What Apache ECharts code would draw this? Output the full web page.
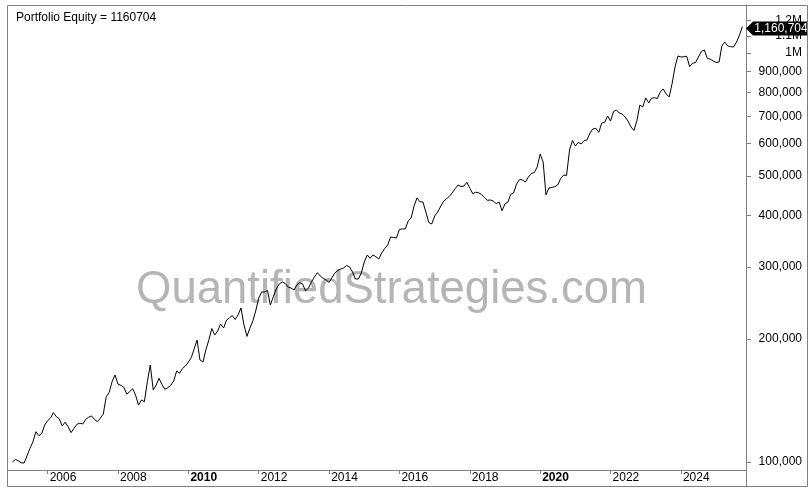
<!DOCTYPE html>
<html>
<head>
<meta charset="utf-8">
<script src="https://cdn.jsdelivr.net/npm/echarts@6/dist/echarts.min.js"></script>
<style>
html,body{margin:0;padding:0;background:#fff;}
#equity_chartID{width:812px;height:492px;}
</style>
</head>
<body>
<div id="equity_chartID"></div>
<script>
//Portfolio equity, monthly closes from Jan 2005
var equityStartYear=2005;
var equityValueArray=[
	100000,101500,100700,99600,99400,103600,108000,112100,118600,116000,
	117500,123200,126200,128300,132000,129100,127600,122500,125100,122000,
	118000,120900,123700,124400,123900,127200,128600,129600,127200,125500,
	127900,131000,144400,147800,157200,163200,155000,154000,152300,146600,
	148500,151100,145800,137800,141800,140400,157200,172600,150000,154300,
	160200,154900,150600,151900,154000,157800,166900,164800,169300,171700,
	175600,180100,188900,198700,177600,175600,187800,198700,212000,204400,
	209100,217500,212600,222400,224900,228100,223000,228800,238100,216300,
	202800,212300,221200,234000,251800,260400,260400,262600,242000,253900,
	264800,272400,275500,273200,267800,266300,263300,270900,274500,272400,
	261900,266300,275500,283300,290400,284900,281000,278600,274700,282600,
	289800,293900,296400,298100,302300,299800,291400,280200,280200,289800,
	308300,320700,314800,320700,317600,313600,324400,332600,339300,354900,
	353900,352900,370600,371300,371300,388400,395000,422600,442000,432900,
	432200,408500,385100,381800,399400,408500,420200,433400,439600,445800,
	454700,465800,475600,471600,472900,482900,466900,452700,456600,455300,
	450900,443300,436400,437100,434600,428100,432200,411500,427400,432200,
	451400,455300,478300,490600,489200,483700,497500,507500,509800,526300,
	566000,541300,450000,467600,469000,471100,475600,493400,503100,501700,
	579100,611000,592400,604800,599100,610300,612700,637400,651900,654400,
	639800,674200,676900,701400,681900,719300,725400,713300,709300,697400,
	681900,659200,646400,681900,746100,737800,776100,754600,774800,777400,
	773900,802800,816500,793800,780500,839800,924100,983200,977600,978700,
	982000,925700,944100,947300,977600,1008300,1016900,970500,965600,955900,
	947800,950500,1040100,1063700,1040100,1036000,1034300,1063700,1106500,1160704
];
var yearTickArray=[2006,2008,2010,2012,2014,2016,2018,2020,2022,2024];
var boldYearArray=[2010,2020];
var priceTickArray=[100000,200000,300000,400000,500000,600000,700000,800000,900000,1000000,1100000,1200000];
var lastEquity=1160704;
var equity_graphID=null;

function showCharts_Equity(){
	var fontName='"Liberation Sans", Arial, sans-serif';
	var seriesData=[];
	for(var i=0;i<equityValueArray.length;i++){
		var y=equityStartYear+Math.floor(i/12);
		var m=i%12;
		seriesData.push([new Date(y,m,1).getTime(), equityValueArray[i]]);
	}
	var yearTicks=[];
	for(var j=0;j<yearTickArray.length;j++){
		yearTicks.push(new Date(yearTickArray[j],0,1).getTime());
	}
	var xMin=new Date(2004,10,15).getTime();
	var xMax=new Date(2025,10,7).getTime();

	equity_graphID = echarts.init(document.getElementById('equity_chartID'));
	var option = {
		animation:false,
		title:{
			text:'Portfolio Equity = '+lastEquity,
			left:11, top:7,
			textStyle:{fontSize:12, fontWeight:'normal', color:'#000', fontFamily:fontName}
		},
		grid:{left:8, right:66, top:5, bottom:22},
		xAxis:{
			type:'value',
			min:xMin, max:xMax,
			axisLine:{show:true, lineStyle:{color:'#808080', width:1}},
			axisTick:{show:true, length:4, inside:false, customValues:yearTicks, lineStyle:{color:'#808080'}},
			splitLine:{show:false},
			axisLabel:{
				customValues:yearTicks,
				align:'left',
				margin:2,
				padding:[0,0,0,2],
				color:'#000',
				fontSize:12,
				fontFamily:fontName,
				formatter:function(v){
					var yr=new Date(v).getFullYear();
					return boldYearArray.indexOf(yr)>=0 ? '{b|'+yr+'}' : ''+yr;
				},
				rich:{b:{fontWeight:'bold', fontSize:12, fontFamily:fontName, color:'#000'}}
			}
		},
		yAxis:{
			type:'log',
			position:'right',
			min:95600, max:1310000,
			axisLine:{show:true, lineStyle:{color:'#808080', width:1}},
			axisTick:{show:true, length:5, inside:false, customValues:priceTickArray, lineStyle:{color:'#808080'}},
			splitLine:{show:false},
			axisLabel:{
				customValues:priceTickArray,
				align:'right',
				margin:56,
				color:'#000',
				fontSize:12,
				fontFamily:fontName,
				formatter:function(v){
					if(v>=1000000){ return (Math.round(v/100000)/10)+'M'; }
					return Math.round(v).toLocaleString('en-US');
				}
			}
		},
		graphic:[
			{
				type:'text', z:0, silent:true,
				style:{
					text:'QuantifiedStrategies.com',
					x:391.5, y:290,
					align:'center', verticalAlign:'middle',
					font:'45.5px "Liberation Sans", Arial, sans-serif',
					fill:'#b5b5b5'
				}
			},
			{
				type:'rect', z:10, silent:true,
				shape:{x:7.5, y:5.5, width:800, height:481},
				style:{fill:'none', stroke:'#808080', lineWidth:1}
			},
			{
				type:'line', z:10, silent:true,
				shape:{x1:746.5, y1:470, x2:746.5, y2:487},
				style:{stroke:'#808080', lineWidth:1}
			}
		],
		series:[
			{
				name:'Portfolio Equity',
				type:'line',
				data:seriesData,
				showSymbol:false,
				z:5,
				lineStyle:{color:'#000', width:1},
				markPoint:{
					symbol:'path://M0,7L7,0L62,0L62,14L7,14Z',
					symbolSize:[62,14],
					symbolOffset:[31,2],
					itemStyle:{color:'#000'},
					label:{
						show:true, position:'inside', offset:[4,0],
						color:'#fff', fontSize:12, fontFamily:fontName,
						formatter:function(){ return lastEquity.toLocaleString('en-US'); }
					},
					data:[{coord:[xMax, lastEquity], value:lastEquity}]
				}
			}
		]
	};
	equity_graphID.setOption(option);
}
showCharts_Equity();
</script>
</body>
</html>
